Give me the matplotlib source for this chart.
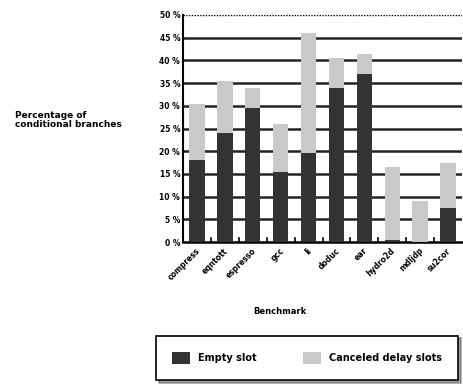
import matplotlib.pyplot as plt
import numpy as np

benchmarks = ["compress", "eqntott", "espresso", "gcc", "li",
              "doduc", "ear", "hydro2d", "mdljdp", "su2cor"]
empty_slot = [18, 24, 29.5, 15.5, 19.5, 34, 37, 0.5, 0, 7.5]
canceled = [12.5, 11.5, 4.5, 10.5, 26.5, 6.5, 4.5, 16, 9, 10]

dark = "#333333"
light = "#c9c9c9"

fig = plt.figure(figsize=(4.64, 3.86), dpi=100)
ax = fig.add_axes([183 / 464, 1 - 242 / 386, 279 / 464, 227 / 386])

x = np.arange(len(benchmarks))
ax.bar(x, empty_slot, width=0.55, color=dark, zorder=3, label="Empty slot")
ax.bar(x, canceled, width=0.55, bottom=empty_slot, color=light, zorder=3,
       label="Canceled delay slots")

ax.set_xlim(-0.5, len(benchmarks) - 0.5)
ax.set_ylim(0, 50)
ax.set_yticks(range(0, 51, 5))
ax.set_yticklabels([f"{v} %" for v in range(0, 51, 5)], fontsize=5.5,
                   fontweight="bold")
for v in range(5, 50, 5):
    ax.axhline(v, color="#222222", lw=1.8, zorder=1)
ax.axhline(50, color="black", lw=1, ls=(0, (1, 1)), zorder=1)

# small ticks between categories
for b in np.arange(0.5, len(benchmarks) - 0.5, 1):
    ax.plot([b, b], [0, 0.8], color="black", lw=1.2, zorder=4)

ax.set_xticks(x - 0.05)
ax.set_xticklabels(benchmarks, rotation=45, ha="right", va="top",
                   fontsize=5.5, fontweight="bold", rotation_mode="anchor")
ax.tick_params(axis="x", length=0, pad=3)
ax.tick_params(axis="y", length=0, pad=2)

for s in ["top", "right"]:
    ax.spines[s].set_visible(False)
ax.spines["left"].set_linewidth(1.5)
ax.spines["bottom"].set_linewidth(1.8)

fig.text(280 / 464, 1 - 312 / 386, "Benchmark", ha="center", va="center",
         fontsize=6, fontweight="bold")
fig.text(15 / 464, 1 - 120 / 386, "Percentage of\nconditional branches",
         ha="left", va="center", fontsize=6.5, fontweight="bold",
         linespacing=1.0)

leg = fig.legend(loc="center", bbox_to_anchor=(307 / 464, 1 - 358 / 386),
                 ncol=2, frameon=True, fancybox=False,
                 shadow=True, edgecolor="black", columnspacing=4.8,
                 handlelength=1.85, handleheight=1.65, borderpad=1.65,
                 borderaxespad=0, handletextpad=0.8,
                 prop={"weight": "bold", "size": 7})
leg.get_frame().set_linewidth(1.2)

fig.savefig("out.png", dpi=100)
